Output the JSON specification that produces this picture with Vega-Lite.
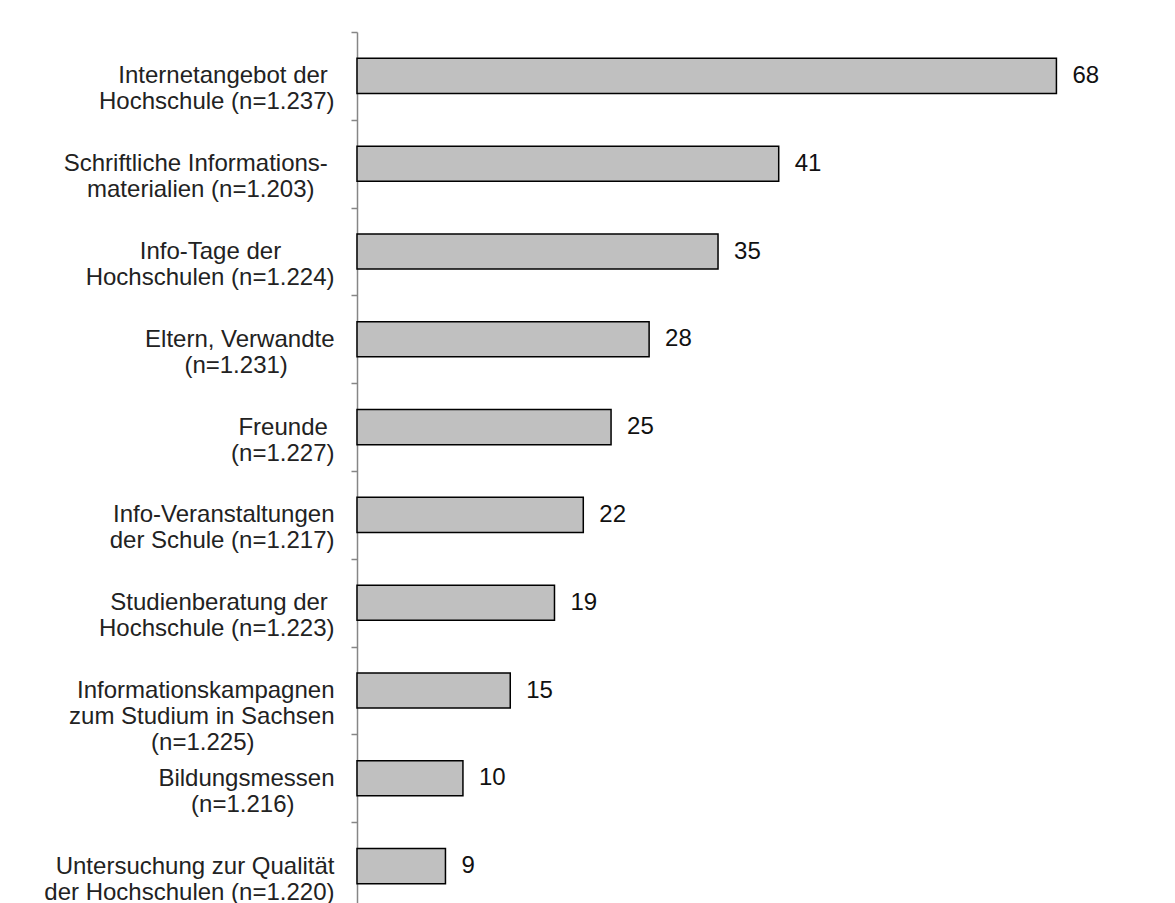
{
  "$schema": "https://vega.github.io/schema/vega-lite/v6.json",
  "width": 720,
  "height": 878,
  "autosize": {"type": "none"},
  "padding": {"left": 357, "top": 32, "right": 98, "bottom": 0},
  "background": "white",
  "config": {"view": {"stroke": null}, "font": "Liberation Sans"},
  "data": {
    "values": [
      {"label": "Internetangebot der\u00a0\u200b|Hochschule (n=1.237)", "value": 68},
      {"label": "Schriftliche Informations-\u00a0\u200b|materialien (n=1.203)\u00a0\u00a0\u00a0\u200b", "value": 41},
      {"label": "Info-Tage der\u00a0\u00a0\u00a0\u00a0\u00a0\u00a0\u00a0\u00a0\u200b|Hochschulen (n=1.224)", "value": 35.1},
      {"label": "Eltern, Verwandte|(n=1.231)\u00a0\u00a0\u00a0\u00a0\u00a0\u00a0\u00a0\u200b", "value": 28.4},
      {"label": "Freunde\u00a0\u200b|(n=1.227)", "value": 24.7},
      {"label": "Info-Veranstaltungen|der Schule (n=1.217)", "value": 22.0},
      {"label": "Studienberatung der\u00a0\u200b|Hochschule (n=1.223)", "value": 19.2},
      {"label": "Informationskampagnen|zum Studium in Sachsen|(n=1.225)\u00a0\u00a0\u00a0\u00a0\u00a0\u00a0\u00a0\u00a0\u00a0\u00a0\u00a0\u00a0\u200b", "value": 14.9},
      {"label": "Bildungsmessen|(n=1.216)\u00a0\u00a0\u00a0\u00a0\u00a0\u00a0\u200b", "value": 10.3},
      {"label": "Untersuchung zur Qualität|der Hochschulen (n=1.220)", "value": 8.6}
    ]
  },
  "encoding": {
    "y": {
      "field": "label",
      "type": "nominal",
      "sort": null,
      "scale": {"paddingInner": 0, "paddingOuter": 0},
      "axis": {
        "title": null,
        "tickBand": "extent",
        "labelExpr": "split(datum.label, '|')",
        "labelFont": "Liberation Sans",
        "labelFontSize": 24,
        "labelLineHeight": 26,
        "labelColor": "#222222",
        "labelLimit": 400,
        "labelPadding": 17,
        "tickSize": 6,
        "tickColor": "#868686",
        "tickWidth": 1.5,
        "domainColor": "#868686",
        "domainWidth": 1.5,
        "labelOverlap": false,
        "labelBound": false,
        "labelAlign": "right",
        "labelBaseline": "middle"
      }
    },
    "x": {
      "field": "value",
      "type": "quantitative",
      "scale": {"domain": [0, 70], "nice": false, "zero": true},
      "axis": null
    }
  },
  "layer": [
    {
      "mark": {"type": "bar", "height": {"band": 0.4}, "fill": "#c0c0c0", "stroke": "#000000", "strokeWidth": 1.5}
    },
    {
      "mark": {"type": "text", "align": "left", "baseline": "middle", "dx": 16, "fontSize": 24, "font": "Liberation Sans", "color": "#111111"},
      "encoding": {"text": {"field": "value", "type": "quantitative", "format": ".0f"}}
    }
  ]
}
